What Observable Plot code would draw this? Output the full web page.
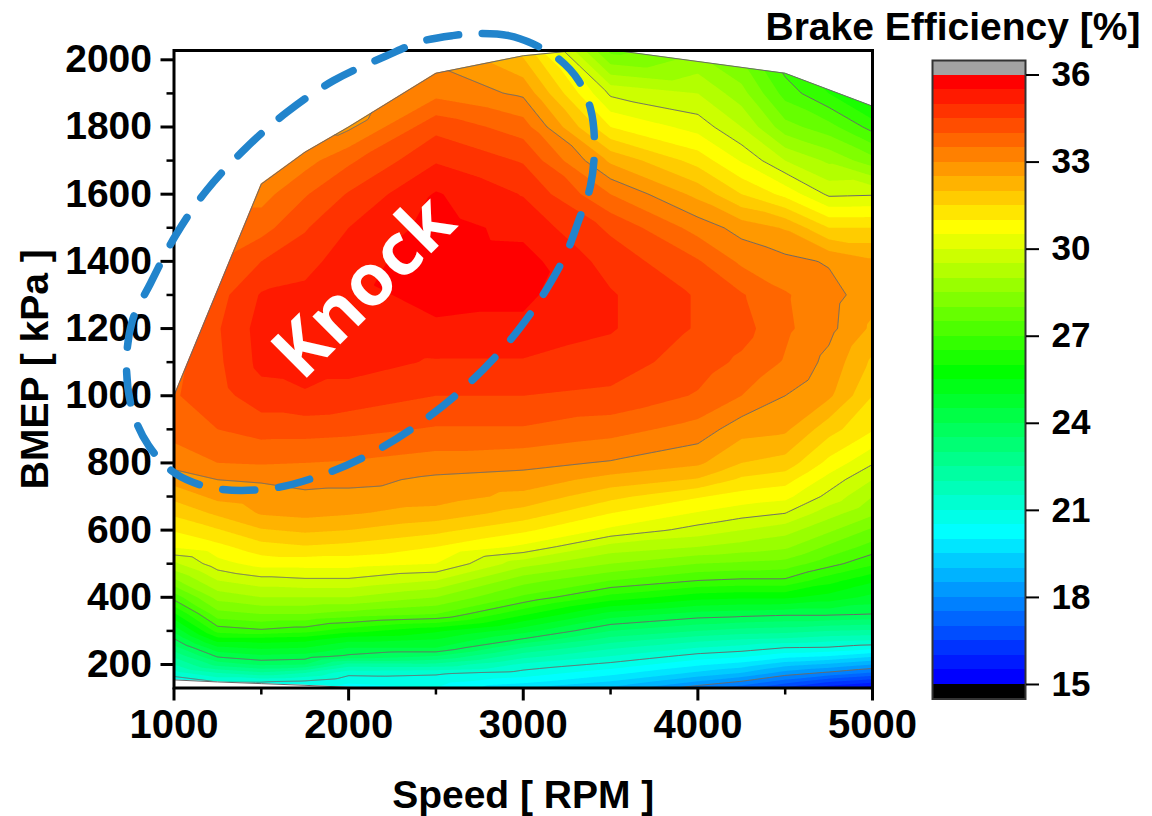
<!DOCTYPE html>
<html><head><meta charset="utf-8">
<style>
html,body{margin:0;padding:0;background:#fff}
#wrap{position:relative;width:1152px;height:816px;overflow:hidden}
#wrap svg{position:absolute;top:0;display:block;max-width:none}
</style>
<script src="https://cdn.jsdelivr.net/npm/d3@7"></script>
<script src="https://cdn.jsdelivr.net/npm/@observablehq/plot@0.6"></script>
</head><body><div id="wrap"></div>
<script>
const speeds = [1000,1250,1500,1750,2000,2500,3000,3500,4000,4250,4500,4750,5000];
const bmepRows = [130,150,175,200,225,250,275,300,350,400,450,500,550,600,650,700,750,800,900,1000,1100,1200,1300,1400,1500,1600,1700,1800,1900,2030];
const efficiency = [
[20,20.8,20.7,20.5,20.3,20.5,19.5,18.9,17.7,17.2,16.4,15.7,15.2],
[20.6,21.05,21.05,20.95,20.6,20.7,20.2,19.5,18.5,18,17.3,16.6,16.2],
[21.3,22,22.4,22,21.2,21.1,20.8,20.2,19.4,19,18.3,17.9,17.45],
[22,23.2,23.6,23.5,22.3,22.35,21.4,20.85,20.1,19.8,19.2,18.9,18.5],
[22.6,24.1,24.4,24.3,23.9,23.5,22.2,21.5,20.8,20.6,20.2,20,19.6],
[23.3,24.9,25.1,25,24.5,24.5,23,22.1,21.5,21.3,21,20.95,20.7],
[23.95,25.8,25.8,25.7,25.2,25,23.95,22.8,22.2,22,21.9,21.7,21.6],
[24.6,26.7,26.9,26.7,26.2,25.6,24.7,23.5,23,22.8,22.7,22.5,22.4],
[25.9,27.8,28,28,27.8,27.5,26.1,24.8,24.3,24.2,24.1,24.1,24],
[27.2,28.7,29,29,29,28.5,27.4,26.3,25.7,25.6,25.6,25.3,24.85],
[28.4,29.5,29.8,29.9,29.9,29.5,28.2,27.5,27,26.9,26.9,26.2,25.6],
[29.4,30.3,30.7,30.7,30.7,30.5,29.2,28.5,28,27.9,27.8,27.2,26.6],
[30.55,30.85,31.3,31.45,31.35,31,30.4,29.3,29,28.8,28.6,27.9,27.3],
[31.05,31.45,31.95,32.1,32,31.65,31.1,30.4,29.8,29.5,29.2,28.6,27.9],
[31.6,32.1,32.55,32.65,32.55,32.3,31.8,31,30.45,30.2,30,29.2,28.6],
[32.15,32.65,32.8,32.9,32.85,32.75,32.35,31.65,31.05,30.8,30.65,29.85,29],
[32.7,33,33.05,33.15,33.15,32.9,32.8,32.3,31.95,31.4,31.2,30.3,29.5],
[33.2,33.5,33.55,33.5,33.45,33.25,33.15,32.95,32.6,32,31.8,30.85,30.05],
[33.7,34,34.2,34.2,34.15,33.95,33.95,33.7,33.3,32.7,32.6,31.7,31.05],
[33.95,34.3,34.8,34.95,34.8,34.5,34.5,34.4,33.95,33.5,33,32.6,31.5],
[33.9,34.4,35.15,35.2,35.2,34.95,34.95,34.75,34.25,33.9,33.45,32.85,31.9],
[33.9,34.45,35.2,35.3,35.35,35.45,35.4,35.05,34.45,34.2,33.6,33.15,32.4],
[33.9,34.3,35.05,35.15,35.4,35.6,35.6,35.05,34.45,34.05,33.55,33.2,32.7],
[33.9,34,34.5,34.8,35.3,35.75,35.7,34.8,34.05,33.4,33.15,32.95,32.6],
[33.9,33.8,33.8,34.45,35,35.7,35.35,34.4,33.3,32.8,32.45,31.5,31.5],
[33.9,33.5,33.3,33.95,34.55,35.55,34.97,33.5,32.35,31.5,30.85,29.9,29.95],
[33.9,33,33,33.3,33.9,34.95,34.45,32.4,31.3,30.45,29.5,28.9,28.2],
[33.9,33,33,33,32.9,34.35,33.75,31,30.3,29.5,28.2,27.7,26.8],
[33.9,33,33,33,32.8,33.35,32.9,29.9,29.5,28.7,27.3,26.5,25.5],
[33.9,33,33,33,32.8,32.8,31.8,27.8,28.4,27.8,26.5,25.5,24.5]
];
// envelope of the measured region
const topSpeed = [1000,1500,1750,2000,2500,3000,3250,3500,4500,5000];
const topBmep  = [1000,1630,1725,1800,1960,2012,2025,2030,1960,1862];
const lowSpeed = [1000,1250,1500,1750,2000,2500];
const lowBmep  = [154,148,143,138,132,128];
// dashed knock ellipse
const ringSpeed = [2732,2916,3053,3202,3317,3385,3408,3385,3317,3248,3139,3042,2898,2675,2429,2160,1868,1558,1238,1009,854,762,728,762,865,1009,1186,1409,1644,1913,2217,2412,2595];
const ringBmep  = [2078,2072,2048,2003,1938,1855,1750,1625,1521,1426,1322,1245,1149,1030,926,837,768,724,724,768,852,956,1090,1224,1334,1477,1611,1736,1843,1938,2012,2054,2072];

const levels = d3.range(15,36,0.5);
const lineLevels = [18,21,24,27,30,33];
const barTicks = [15,18,21,24,27,30,33,36];
const xMajor = [1000,2000,3000,4000,5000];
const xMinor = [1500,2500,3500,4500];
const yMajor = [200,400,600,800,1000,1200,1400,1600,1800,2000];
const yMinor = [300,500,700,900,1100,1300,1500,1700,1900];

const samples = bmepRows.flatMap((b,i)=>speeds.map((s,j)=>({s,b,v:efficiency[i][j]})));
const upperEdge = topSpeed.map((s,i)=>({s,b:topBmep[i]}));
const lowerEdge = lowSpeed.map((s,i)=>({s,b:lowBmep[i]}));
const ring = ringSpeed.map((s,i)=>({s,b:ringBmep[i]}));

const colorOpts = {type:"linear",domain:[15,20,25.5,30.5,35.5],range:["#0000ff","#00ffff","#00ff00","#ffff00","#ff0000"],interpolate:"rgb",clamp:true};
const font = "'Liberation Sans',Arial,sans-serif";
const yLo = 130, yHi = 2027.7;

const mainPlot = Plot.plot({
  width:1152,height:816,marginLeft:173.5,marginRight:280,marginTop:50,marginBottom:128.5,
  style:{fontFamily:font,background:"transparent",color:"#000"},
  x:{domain:[1000,5000]},y:{domain:[yLo,yHi]},color:colorOpts,
  marks:[
    Plot.contour(samples,{x:"s",y:"b",fill:"v",interpolate:"barycentric",thresholds:levels,pixelSize:1,stroke:"none"}),
    Plot.contour(samples,{x:"s",y:"b",value:"v",interpolate:"barycentric",thresholds:lineLevels,pixelSize:1,stroke:"#6a6a6a",strokeWidth:1,fill:"none"}),
    Plot.areaY(upperEdge,{x:"s",y1:"b",y2:yHi,fill:"white"}),
    Plot.areaY(lowerEdge,{x:"s",y1:"b",y2:yLo,fill:"white"}),
    Plot.line(upperEdge,{x:"s",y:"b",stroke:"#6a6a6a",strokeWidth:1}),
    Plot.line(lowerEdge,{x:"s",y:"b",stroke:"#6a6a6a",strokeWidth:1}),
    Plot.frame({stroke:"#000",strokeWidth:3}),
    Plot.axisX(xMajor,{tickSize:13,tickPadding:9,fontSize:40,fontWeight:700,strokeWidth:3,label:null,tickFormat:d=>String(d)}),
    Plot.axisX(xMinor,{tickSize:7,text:null,strokeWidth:2.5,label:null}),
    Plot.axisY(yMajor,{tickSize:13,tickPadding:9,fontSize:39,fontWeight:700,strokeWidth:3,label:null,tickFormat:d=>String(d)}),
    Plot.axisY(yMinor,{tickSize:7,text:null,strokeWidth:2.5,label:null}),
    Plot.line(ring,{x:"s",y:"b",curve:"catmull-rom-closed",stroke:"#2184cc",strokeWidth:7.5,strokeDasharray:"32,24"}),
    Plot.text(["Knock"],{x:()=>2090,y:()=>1322,text:d=>d,rotate:-45,fill:"white",fontSize:72,fontWeight:700,fontFamily:"'Open Sans'"}),
    Plot.text(["Speed [ RPM ]"],{frameAnchor:"bottom",text:d=>d,dy:108,fontSize:39,fontWeight:700,lineAnchor:"middle"}),
    Plot.text(["BMEP [ kPa ]"],{frameAnchor:"left",text:d=>d,dx:-138,rotate:-90,fontSize:39,fontWeight:700,lineAnchor:"middle",textAnchor:"middle"}),
    Plot.text(["Brake Efficiency [%]"],{frameAnchor:"top-right",text:d=>d,dx:268,dy:-23,fontSize:39,fontWeight:700,lineAnchor:"middle",textAnchor:"end"})
  ]
});

const barPlot = Plot.plot({
  width:252,height:816,marginLeft:32,marginRight:127,marginTop:60,marginBottom:117.5,
  style:{fontFamily:font,background:"transparent",color:"#000"},
  x:{domain:[0,1],axis:null},y:{domain:[14.5,36.5]},color:colorOpts,
  marks:[
    Plot.rect(levels,{x1:0,x2:1,y1:d=>d,y2:d=>d+0.5,fill:d=>d,shapeRendering:"crispEdges"}),
    Plot.rect([36],{x1:0,x2:1,y1:d=>d,y2:d=>d+0.5,fill:"#a3a3a3",shapeRendering:"crispEdges"}),
    Plot.rect([14.5],{x1:0,x2:1,y1:d=>d,y2:d=>d+0.5,fill:"#000",shapeRendering:"crispEdges"}),
    Plot.frame({stroke:"#333",strokeWidth:2}),
    Plot.axisY(barTicks,{anchor:"right",tickSize:13,tickPadding:13,fontSize:35,fontWeight:700,strokeWidth:2,label:null,tickFormat:d=>String(d)})
  ]
});
barPlot.style.left="900px";
mainPlot.style.left="0px";
document.getElementById("wrap").append(mainPlot,barPlot);
</script></body></html>
